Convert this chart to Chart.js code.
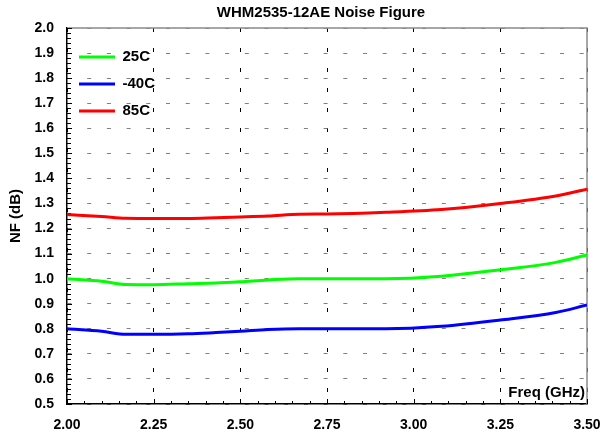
<!DOCTYPE html>
<html>
<head>
<meta charset="utf-8">
<script src="https://cdn.jsdelivr.net/npm/chart.js@4/dist/chart.umd.min.js"></script>
<style>
  html, body { margin: 0; padding: 0; background: #ffffff; }
  #wrap { width: 604px; height: 441px; }
</style>
</head>
<body>
<div id="wrap"><canvas id="c" width="604" height="441"></canvas></div>
<script>
// ---- data ----
const chartTitle = 'WHM2535-12AE Noise Figure';
const xTitle = 'Freq (GHz)';
const yTitle = 'NF (dB)';
const freq   = [2.00, 2.10, 2.17, 2.25, 2.35, 2.43, 2.50, 2.58, 2.67, 2.75, 2.92, 3.08, 3.25, 3.41, 3.50];
const nf25   = [1.000, 0.990, 0.977, 0.976, 0.980, 0.983, 0.988, 0.995, 1.000, 1.000, 1.000, 1.010, 1.035, 1.065, 1.095];
const nfM40  = [0.800, 0.790, 0.778, 0.778, 0.780, 0.785, 0.790, 0.797, 0.800, 0.800, 0.800, 0.810, 0.835, 0.865, 0.895];
const nf85   = [1.256, 1.248, 1.241, 1.240, 1.240, 1.243, 1.246, 1.250, 1.257, 1.258, 1.265, 1.276, 1.300, 1.330, 1.357];
const seriesNames  = ['25C', '-40C', '85C'];
const seriesColors = ['#00ff00', '#0000ff', '#ff0000'];
const xTickLabels = ['2.00', '2.25', '2.50', '2.75', '3.00', '3.25', '3.50'];
const yTickLabels = ['0.5', '0.6', '0.7', '0.8', '0.9', '1.0', '1.1', '1.2', '1.3', '1.4', '1.5', '1.6', '1.7', '1.8', '1.9', '2.0'];

Chart.defaults.font.family = "'Liberation Sans', Arial, Helvetica, sans-serif";
Chart.defaults.color = '#000000';

function toPoints(ys) { return freq.map((f, i) => ({ x: f, y: ys[i] })); }

const allSeries = [nf25, nfM40, nf85];
const datasets = allSeries.map((ys, i) => ({
  label: seriesNames[i],
  data: toPoints(ys),
  borderColor: seriesColors[i],
  backgroundColor: seriesColors[i],
  borderWidth: 3,
  pointRadius: 0,
  cubicInterpolationMode: 'monotone',
  tension: 0.3,
  fill: false
}));

const framePlugin = {
  id: 'frame',
  afterLayout(chart) {
    const t = chart.titleBlock;
    if (t) { t.left -= 6; t.right -= 6; }
  },
  beforeDatasetsDraw(chart) {
    const { ctx, chartArea: a, scales: { x, y } } = chart;
    ctx.save();
    // gray top / right frame
    ctx.strokeStyle = '#8a8a8a';
    ctx.lineWidth = 1.5;
    ctx.setLineDash([]);
    ctx.beginPath();
    ctx.moveTo(a.left, a.top);
    ctx.lineTo(a.right, a.top);
    ctx.lineTo(a.right, a.bottom);
    ctx.stroke();
    // inward tick marks
    ctx.strokeStyle = '#000000';
    ctx.lineWidth = 1;
    ctx.beginPath();
    for (let i = 0; ; i++) {
      const v = x.min + i * 0.05;
      if (v > x.max + 1e-9) break;
      const len = (i % 5 === 0) ? 5 : 3;
      const px = Math.round(x.getPixelForValue(v)) + 0.5;
      ctx.moveTo(px, a.bottom);
      ctx.lineTo(px, a.bottom - len);
    }
    for (let i = 0; ; i++) {
      const v = y.min + i * 0.02;
      if (v > y.max + 1e-9) break;
      const len = (i % 5 === 0) ? 5 : 4;
      const py = Math.round(y.getPixelForValue(v)) + 0.5;
      ctx.moveTo(a.left, py);
      ctx.lineTo(a.left + len, py);
    }
    ctx.stroke();
    ctx.restore();
  },
  afterDraw(chart) {
    const { ctx, chartArea: a } = chart;
    const t = chart.options.scales.x.title;
    ctx.save();
    ctx.font = "bold 15px 'Liberation Sans', Arial, sans-serif";
    ctx.fillStyle = '#000000';
    ctx.textAlign = 'right';
    ctx.textBaseline = 'middle';
    ctx.fillText(t.text, a.right - 2, a.bottom - 11);
    ctx.restore();
  }
};

new Chart(document.getElementById('c'), {
  type: 'line',
  data: { datasets },
  plugins: [framePlugin],
  options: {
    responsive: false,
    animation: false,
    devicePixelRatio: 1,
    layout: { padding: { left: 0, right: 17, top: 0, bottom: 0 } },
    plugins: {
      title: {
        display: true,
        text: chartTitle,
        fullSize: false,
        color: '#000000',
        font: { size: 15, weight: 'bold' },
        padding: { top: 4, bottom: 6 }
      },
      legend: {
        display: true,
        position: 'chartArea',
        align: 'start',
        title: { display: true, text: ' ', font: { size: 7 }, padding: { top: 29, bottom: 0 } },
        labels: {
          usePointStyle: true,
          pointStyle: 'line',
          pointStyleWidth: 36,
          color: '#000000',
          font: { size: 15, weight: 'bold' },
          padding: 12
        }
      },
      tooltip: { enabled: false }
    },
    scales: {
      x: {
        type: 'linear',
        min: parseFloat(xTickLabels[0]),
        max: parseFloat(xTickLabels[xTickLabels.length - 1]),
        afterBuildTicks(s) { s.ticks = xTickLabels.map(t => ({ value: parseFloat(t) })); },
        afterFit(s) { s.height = 37; s.paddingRight = 0; s.paddingLeft = 0; },
        ticks: {
          autoSkip: false,
          maxRotation: 0,
          padding: 13,
          color: '#000000',
          font: { size: 14, weight: 'bold' },
          callback: (v) => xTickLabels.find(t => Math.abs(parseFloat(t) - v) < 1e-6) || ''
        },
        grid: { display: true, color: '#000000', lineWidth: 1, drawTicks: false },
        border: { display: true, color: '#000000', width: 1.5, dash: [4, 16] },
        title: { display: false, text: xTitle }
      },
      y: {
        type: 'linear',
        min: parseFloat(yTickLabels[0]),
        max: parseFloat(yTickLabels[yTickLabels.length - 1]),
        afterBuildTicks(s) { s.ticks = yTickLabels.map(t => ({ value: parseFloat(t) })); },
        afterFit(s) { s.width = 67; },
        ticks: {
          autoSkip: false,
          padding: 13,
          color: '#000000',
          font: { size: 14, weight: 'bold' },
          callback: (v) => yTickLabels.find(t => Math.abs(parseFloat(t) - v) < 1e-6) || ''
        },
        grid: { display: true, color: '#808080', lineWidth: 1, drawTicks: false },
        border: { display: true, color: '#000000', width: 1.5, dash: [4, 15.7] },
        title: {
          display: true,
          text: yTitle,
          color: '#000000',
          font: { size: 15, weight: 'bold' },
          padding: { top: 7, bottom: 0 }
        }
      }
    }
  }
});
</script>
</body>
</html>
